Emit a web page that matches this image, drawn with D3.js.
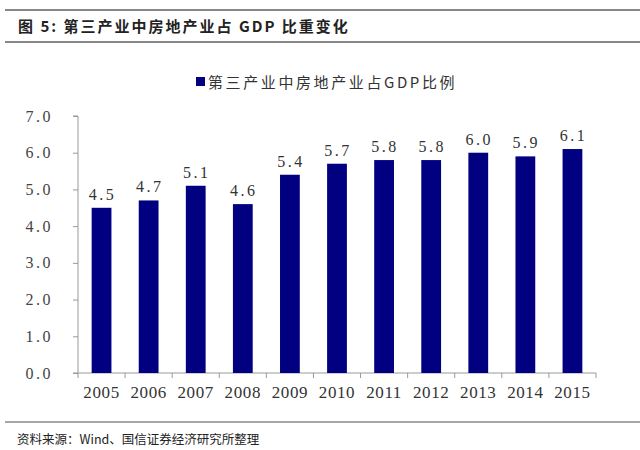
<!DOCTYPE html>
<html><head><meta charset="utf-8">
<script src="https://cdn.jsdelivr.net/npm/d3@7"></script>
<style>body{margin:0;background:#fff}</style>
</head><body>
<svg id="c" width="640" height="450"></svg>
<script>
const years = ["2005","2006","2007","2008","2009","2010","2011","2012","2013","2014","2015"];
const shares = [4.5,4.7,5.1,4.6,5.4,5.7,5.8,5.8,6.0,5.9,6.1];
const yTicks = [0,1,2,3,4,5,6,7];
const titleText = "图 5: 第三产业中房地产业占 GDP 比重变化";
const legendText = "第三产业中房地产业占GDP比例";
const sourceText = "资料来源：Wind、国信证券经济研究所整理";

const svg = d3.select("#c");
const serif = "'Liberation Serif','DejaVu Serif',serif";
const cjk = "'Noto Sans CJK SC',sans-serif";
const barColor = "#000080";

// header lines
svg.append("line").attr("x1",5).attr("x2",640).attr("y1",10).attr("y2",10).attr("stroke","#888").attr("stroke-width",2);
svg.append("line").attr("x1",5).attr("x2",640).attr("y1",42).attr("y2",42).attr("stroke","#888").attr("stroke-width",2);
svg.append("text").attr("x",18).attr("y",32).attr("font-family",cjk).attr("font-weight","bold")
  .attr("font-size",15).attr("fill","#222").attr("letter-spacing",2).attr("xml:space","preserve").text(titleText);

// footer
svg.append("line").attr("x1",5).attr("x2",640).attr("y1",422).attr("y2",422).attr("stroke","#888").attr("stroke-width",1.5);
svg.append("text").attr("x",17).attr("y",444).attr("font-family",cjk).attr("font-size",12.5)
  .attr("fill","#222").text(sourceText);

// legend
svg.append("rect").attr("x",196).attr("y",77).attr("width",9).attr("height",9).attr("fill",barColor);
svg.append("text").attr("x",208).attr("y",88).attr("font-family",cjk).attr("font-size",15)
  .attr("fill","#333").attr("letter-spacing",2.6).text(legendText);

const x0 = 78, x1 = 596, yTop = 116, yBot = 373;
const x = d3.scaleBand().domain(years).range([x0,x1]).paddingInner(0.58).paddingOuter(0.29);
const y = d3.scaleLinear().domain([0,7]).range([yBot,yTop]);

// y axis
const ya = svg.append("g").attr("transform",`translate(${x0},0)`)
  .call(d3.axisLeft(y).tickValues(yTicks).tickFormat(d=>d3.format(".1f")(d)).tickSize(5).tickPadding(20));
ya.select(".domain").attr("stroke","#999").attr("d",`M-5,${yTop}H0V${yBot}H-5`);
ya.selectAll(".tick line").attr("stroke","#999");
ya.selectAll(".tick text").attr("font-family",serif).attr("font-size",16).attr("fill","#444").attr("letter-spacing",2.5);

// x axis
const xa = svg.append("g").attr("transform",`translate(0,${yBot})`)
  .call(d3.axisBottom(x).tickSize(0).tickPadding(13));
xa.select(".domain").attr("stroke","#999").attr("d",`M${x0},0H${x1}`);
xa.selectAll(".tick text").attr("font-family",serif).attr("font-size",17).attr("fill","#333").attr("letter-spacing",0.6);
// tick marks between categories
const bounds = d3.range(years.length+1).map(i => x0 + (x1-x0)*i/years.length);
xa.selectAll(".sep").data(bounds).enter().append("line").attr("class","sep")
  .attr("x1",d=>d).attr("x2",d=>d).attr("y1",0).attr("y2",5).attr("stroke","#999");

// bars
svg.append("g").selectAll("rect").data(years).enter().append("rect")
  .attr("x",d=>x(d)).attr("width",x.bandwidth())
  .attr("y",(d,i)=>y(shares[i])).attr("height",(d,i)=>yBot-y(shares[i]))
  .attr("fill",barColor);

// labels
svg.append("g").selectAll("text").data(years).enter().append("text")
  .attr("x",d=>x(d)+x.bandwidth()/2+1).attr("y",(d,i)=>y(shares[i])-8)
  .attr("text-anchor","middle").attr("font-family",serif).attr("font-size",16).attr("fill","#333")
  .attr("letter-spacing",2.5)
  .text((d,i)=>d3.format(".1f")(shares[i]));
</script>
</body></html>
